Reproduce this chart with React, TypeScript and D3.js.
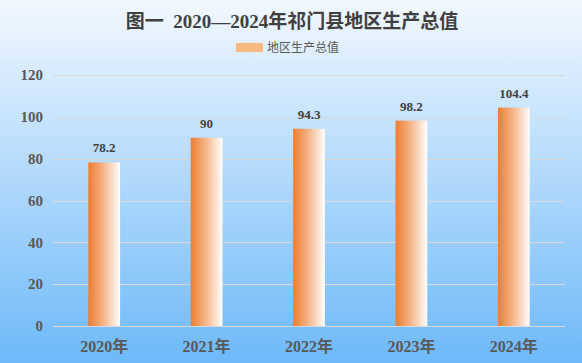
import * as d3 from 'd3';
import { useEffect, useRef } from 'react';

const years = ['2020年', '2021年', '2022年', '2023年', '2024年'];
const gdp = [78.2, 90, 94.3, 98.2, 104.4];
const yTicks = [0, 20, 40, 60, 80, 100, 120];
const title = '图一  2020—2024年祁门县地区生产总值';
const seriesName = '地区生产总值';

const App = () => {
  const ref = useRef<SVGSVGElement | null>(null);

  useEffect(() => {
    const width = 582;
    const height = 363;
    const margin = { top: 75, right: 17, bottom: 37, left: 53 };

    const svg = d3.select(ref.current).attr('width', width).attr('height', height);
    svg.selectAll('*').remove();

    const defs = svg.append('defs');
    // background: pale at top, sky blue at bottom
    const bg = defs
      .append('linearGradient')
      .attr('id', 'bg')
      .attr('x1', 0)
      .attr('y1', 0)
      .attr('x2', 0)
      .attr('y2', 1);
    bg.append('stop').attr('offset', '0%').attr('stop-color', '#f2f8fe');
    bg.append('stop').attr('offset', '100%').attr('stop-color', '#6db9f9');

    // bars: orange on the left fading to white
    const barGrad = defs
      .append('linearGradient')
      .attr('id', 'bar')
      .attr('x1', 0)
      .attr('y1', 0)
      .attr('x2', 1)
      .attr('y2', 0);
    barGrad.append('stop').attr('offset', '0%').attr('stop-color', '#ed7d31');
    barGrad.append('stop').attr('offset', '45%').attr('stop-color', '#f4b183');
    barGrad.append('stop').attr('offset', '100%').attr('stop-color', '#ffffff');

    svg.append('rect').attr('width', width).attr('height', height).attr('fill', 'url(#bg)');

    const x = d3
      .scaleBand()
      .domain(years)
      .range([margin.left, width - margin.right])
      .paddingInner(0.69)
      .paddingOuter(0.345);

    const y = d3
      .scaleLinear()
      .domain([0, 120])
      .range([height - margin.bottom, margin.top]);

    // grid lines
    svg
      .append('g')
      .selectAll('line')
      .data(yTicks)
      .join('line')
      .attr('x1', margin.left)
      .attr('x2', width - margin.right)
      .attr('y1', (d) => Math.round(y(d)) + 0.5)
      .attr('y2', (d) => Math.round(y(d)) + 0.5)
      .attr('stroke', '#d9d9d9')
      .attr('stroke-width', 1);

    // y tick labels
    svg
      .append('g')
      .selectAll('text')
      .data(yTicks)
      .join('text')
      .attr('x', 43)
      .attr('y', (d) => y(d))
      .attr('dy', '0.35em')
      .attr('text-anchor', 'end')
      .attr('font-family', '"Liberation Serif", serif')
      .attr('font-weight', 'bold')
      .attr('font-size', 15)
      .attr('fill', '#595959')
      .text((d) => d);

    // bars
    svg
      .append('g')
      .selectAll('rect')
      .data(gdp)
      .join('rect')
      .attr('x', (_, i) => x(years[i])!)
      .attr('y', (d) => y(d))
      .attr('width', x.bandwidth())
      .attr('height', (d) => y(0) - y(d))
      .attr('fill', 'url(#bar)');

    // value labels
    svg
      .append('g')
      .selectAll('text')
      .data(gdp)
      .join('text')
      .attr('x', (_, i) => x(years[i])! + x.bandwidth() / 2)
      .attr('y', (d) => y(d) - 10)
      .attr('text-anchor', 'middle')
      .attr('font-family', '"Liberation Serif", serif')
      .attr('font-weight', 'bold')
      .attr('font-size', 13)
      .attr('fill', '#404040')
      .text((d) => d);

    // x labels
    svg
      .append('g')
      .selectAll('text')
      .data(years)
      .join('text')
      .attr('x', (d) => x(d)! + x.bandwidth() / 2)
      .attr('y', 352)
      .attr('text-anchor', 'middle')
      .attr('font-family', '"Liberation Serif", "Noto Sans CJK SC", serif')
      .attr('font-weight', 'bold')
      .attr('font-size', 16)
      .attr('fill', '#595959')
      .text((d) => d);

    // title
    svg
      .append('text')
      .attr('x', 292)
      .attr('y', 28)
      .attr('text-anchor', 'middle')
      .attr('font-family', '"Liberation Serif", "Noto Sans CJK SC", serif')
      .attr('font-weight', 'bold')
      .attr('font-size', 19)
      .attr('fill', '#404040')
      .style('white-space', 'pre')
      .text(title);

    // legend
    svg
      .append('rect')
      .attr('x', 236)
      .attr('y', 43)
      .attr('width', 27)
      .attr('height', 9)
      .attr('fill', '#f8b982');
    svg
      .append('text')
      .attr('x', 267)
      .attr('y', 52)
      .attr('font-family', '"Noto Sans CJK SC", sans-serif')
      .attr('font-size', 12)
      .attr('fill', '#595959')
      .text(seriesName);
  }, []);

  return (
    <div style={{ position: 'absolute', left: 0, top: 0 }}>
      <svg ref={ref} style={{ display: 'block' }}></svg>
    </div>
  );
};

export default App;
